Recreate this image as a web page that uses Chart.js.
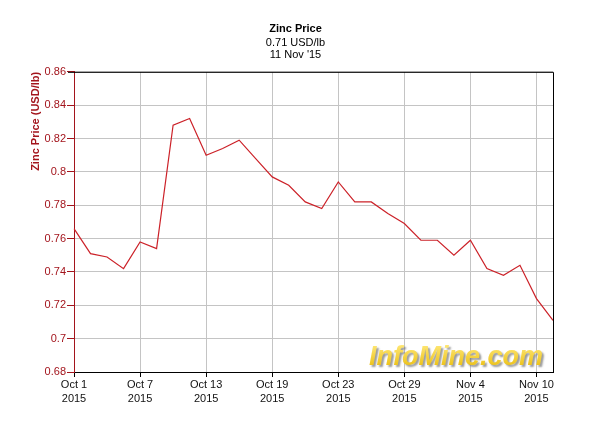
<!DOCTYPE html>
<html>
<head>
<meta charset="utf-8">
<script src="https://cdn.jsdelivr.net/npm/chart.js@4/dist/chart.umd.min.js"></script>
<style>
  html, body { margin: 0; padding: 0; background: #fff; }
  #wrap { width: 599px; height: 428px; }
</style>
</head>
<body>
<div id="wrap"><canvas id="zinc-chart" width="599" height="428"></canvas></div>
<script>
// trading days, Oct 1 2015 - Nov 11 2015
const days = ['Oct 1', 'Oct 2', 'Oct 5', 'Oct 6', 'Oct 7', 'Oct 8', 'Oct 9', 'Oct 12', 'Oct 13', 'Oct 14',
    'Oct 15', 'Oct 16', 'Oct 19', 'Oct 20', 'Oct 21', 'Oct 22', 'Oct 23', 'Oct 26', 'Oct 27', 'Oct 28',
    'Oct 29', 'Oct 30', 'Nov 2', 'Nov 3', 'Nov 4', 'Nov 5', 'Nov 6', 'Nov 9', 'Nov 10', 'Nov 11'];
const year = '2015';
// price in USD/lb
const prices = [0.766, 0.751, 0.749, 0.742, 0.758, 0.754, 0.828, 0.832, 0.810, 0.814,
    0.819, 0.808, 0.797, 0.792, 0.782, 0.778, 0.794, 0.782, 0.782, 0.775,
    0.769, 0.759, 0.759, 0.750, 0.759, 0.742, 0.738, 0.744, 0.724, 0.711];
const titleLines = ['Zinc Price'];
const subtitleLines = ['0.71 USD/lb', "11 Nov '15"];
const yTicks = { min: 0.68, max: 0.86, step: 0.02 };

const font = 'Arial, "Liberation Sans", sans-serif';
const red = '#a3141c';
const gridGray = '#c4c4c4';

Chart.defaults.font.family = font;
Chart.defaults.font.size = 11;

// black frame on top and right of the plot
const frame = {
    id: 'frame',
    afterDraw(chart) {
        const { ctx, chartArea: a } = chart;
        ctx.save();
        ctx.strokeStyle = '#000';
        ctx.lineWidth = 1;
        ctx.beginPath();
        ctx.moveTo(a.left - 6, a.top + 0.5);
        ctx.lineTo(a.right + 0.5, a.top + 0.5);
        ctx.lineTo(a.right + 0.5, a.bottom);
        ctx.stroke();
        ctx.restore();
    }
};

// the InfoMine.com watermark
const watermark = {
    id: 'watermark',
    beforeDatasetsDraw(chart) {
        const { ctx, chartArea: a } = chart;
        ctx.save();
        ctx.font = 'italic bold 27px ' + font;
        ctx.textAlign = 'right';
        ctx.textBaseline = 'alphabetic';
        ctx.shadowColor = 'rgba(110,110,110,0.7)';
        ctx.shadowOffsetX = 2;
        ctx.shadowOffsetY = 2;
        ctx.shadowBlur = 2;
        const g = ctx.createLinearGradient(0, a.bottom - 28, 0, a.bottom - 6);
        g.addColorStop(0, '#ffe878');
        g.addColorStop(1, '#ecc21a');
        ctx.fillStyle = g;
        ctx.fillText('InfoMine.com', a.right - 10, a.bottom - 7);
        ctx.restore();
    }
};

new Chart(document.querySelector('#zinc-chart').getContext('2d'), {
    type: 'line',
    data: {
        labels: days,
        datasets: [{
            label: 'Zinc',
            data: prices,
            borderColor: '#cc2229',
            borderWidth: 1.2,
            pointRadius: 0,
            tension: 0,
            fill: false
        }]
    },
    options: {
        responsive: false,
        animation: false,
        devicePixelRatio: 1,
        layout: { padding: { left: 0, right: 8, top: 0, bottom: 0 } },
        plugins: {
            legend: { display: false },
            tooltip: { enabled: false },
            title: {
                display: true,
                text: titleLines,
                color: '#000',
                font: { size: 11, weight: 'bold', lineHeight: 1.15 },
                padding: { top: 23, bottom: 0 }
            },
            subtitle: {
                display: true,
                text: subtitleLines,
                color: '#000',
                font: { size: 11, lineHeight: 1.1 },
                padding: { top: 1, bottom: 11 }
            }
        },
        scales: {
            x: {
                type: 'category',
                offset: false,
                border: { color: '#000', width: 1 },
                grid: {
                    color: c => (c.index % 4 === 0 && c.index > 0) ? gridGray : 'rgba(0,0,0,0)',
                    tickColor: c => c.index % 4 === 0 ? '#000' : 'rgba(0,0,0,0)',
                    tickLength: 5,
                    drawTicks: true
                },
                ticks: {
                    autoSkip: false,
                    maxRotation: 0,
                    minRotation: 0,
                    padding: 1,
                    color: '#111',
                    font: { size: 11, lineHeight: 1.27 },
                    callback: (v, i) => i % 4 === 0 ? [days[i], year] : ''
                },
                afterFit: s => { s.height = 56; }
            },
            y: {
                min: yTicks.min,
                max: yTicks.max,
                border: { color: red, width: 1 },
                grid: {
                    color: c => c.index === 0 ? 'rgba(0,0,0,0)' : gridGray,
                    tickColor: red,
                    tickLength: 7
                },
                ticks: {
                    stepSize: yTicks.step,
                    padding: 1,
                    color: red,
                    font: { size: 11 },
                    callback: v => String(parseFloat(v.toFixed(2)))
                },
                title: {
                    display: true,
                    text: 'Zinc Price (USD/lb)',
                    align: 'end',
                    color: red,
                    font: { size: 11, weight: 'bold' },
                    padding: { top: 29, bottom: 0 }
                },
                afterFit: s => { s.width = 74; }
            },
            // empty spacer on the right so the plot ends where the reference does
            spacer: {
                type: 'linear',
                position: 'right',
                display: true,
                border: { display: false },
                grid: { display: false, drawTicks: false },
                ticks: { display: false },
                afterFit: s => { s.width = 38; }
            }
        }
    },
    plugins: [watermark, frame]
});
</script>
</body>
</html>
